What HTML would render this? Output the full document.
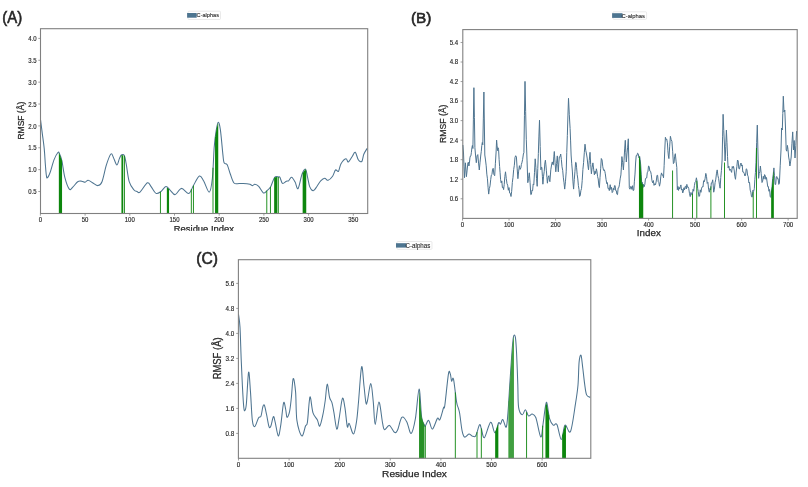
<!DOCTYPE html><html><head><meta charset="utf-8"><style>html,body{margin:0;padding:0;background:#fff;overflow:hidden;}svg{display:block;}</style></head><body>
<svg width="808" height="487" viewBox="0 0 808 487" font-family='"Liberation Sans", sans-serif' fill="#262626">
<defs><clipPath id="clipA"><rect x="0" y="0" width="400" height="230.7"/></clipPath><filter id="bl" x="0" y="0" width="100%" height="100%"><feGaussianBlur stdDeviation="0.55"/></filter></defs>
<g filter="url(#bl)">
<rect width="808" height="487" fill="#fff"/>
<g stroke="#808080" stroke-width="0.75">
<line x1="40.40" y1="213.50" x2="40.40" y2="215.70"/>
<line x1="85.10" y1="213.50" x2="85.10" y2="215.70"/>
<line x1="129.80" y1="213.50" x2="129.80" y2="215.70"/>
<line x1="174.50" y1="213.50" x2="174.50" y2="215.70"/>
<line x1="219.20" y1="213.50" x2="219.20" y2="215.70"/>
<line x1="263.90" y1="213.50" x2="263.90" y2="215.70"/>
<line x1="308.60" y1="213.50" x2="308.60" y2="215.70"/>
<line x1="353.30" y1="213.50" x2="353.30" y2="215.70"/>
<line x1="38.30" y1="191.53" x2="40.50" y2="191.53"/>
<line x1="38.30" y1="169.65" x2="40.50" y2="169.65"/>
<line x1="38.30" y1="147.78" x2="40.50" y2="147.78"/>
<line x1="38.30" y1="125.90" x2="40.50" y2="125.90"/>
<line x1="38.30" y1="104.03" x2="40.50" y2="104.03"/>
<line x1="38.30" y1="82.15" x2="40.50" y2="82.15"/>
<line x1="38.30" y1="60.28" x2="40.50" y2="60.28"/>
<line x1="38.30" y1="38.40" x2="40.50" y2="38.40"/>
</g><g stroke="#262626" stroke-width="0.15">
<text x="40.40" y="221.90" text-anchor="middle" font-size="6.4" textLength="3.34" lengthAdjust="spacingAndGlyphs">0</text>
<text x="85.10" y="221.90" text-anchor="middle" font-size="6.4" textLength="6.67" lengthAdjust="spacingAndGlyphs">50</text>
<text x="129.80" y="221.90" text-anchor="middle" font-size="6.4" textLength="10.01" lengthAdjust="spacingAndGlyphs">100</text>
<text x="174.50" y="221.90" text-anchor="middle" font-size="6.4" textLength="10.01" lengthAdjust="spacingAndGlyphs">150</text>
<text x="219.20" y="221.90" text-anchor="middle" font-size="6.4" textLength="10.01" lengthAdjust="spacingAndGlyphs">200</text>
<text x="263.90" y="221.90" text-anchor="middle" font-size="6.4" textLength="10.01" lengthAdjust="spacingAndGlyphs">250</text>
<text x="308.60" y="221.90" text-anchor="middle" font-size="6.4" textLength="10.01" lengthAdjust="spacingAndGlyphs">300</text>
<text x="353.30" y="221.90" text-anchor="middle" font-size="6.4" textLength="10.01" lengthAdjust="spacingAndGlyphs">350</text>
<text x="36.60" y="194.12" text-anchor="end" font-size="6.4" textLength="8.34" lengthAdjust="spacingAndGlyphs">0.5</text>
<text x="36.60" y="172.25" text-anchor="end" font-size="6.4" textLength="8.34" lengthAdjust="spacingAndGlyphs">1.0</text>
<text x="36.60" y="150.38" text-anchor="end" font-size="6.4" textLength="8.34" lengthAdjust="spacingAndGlyphs">1.5</text>
<text x="36.60" y="128.50" text-anchor="end" font-size="6.4" textLength="8.34" lengthAdjust="spacingAndGlyphs">2.0</text>
<text x="36.60" y="106.62" text-anchor="end" font-size="6.4" textLength="8.34" lengthAdjust="spacingAndGlyphs">2.5</text>
<text x="36.60" y="84.75" text-anchor="end" font-size="6.4" textLength="8.34" lengthAdjust="spacingAndGlyphs">3.0</text>
<text x="36.60" y="62.88" text-anchor="end" font-size="6.4" textLength="8.34" lengthAdjust="spacingAndGlyphs">3.5</text>
<text x="36.60" y="41.00" text-anchor="end" font-size="6.4" textLength="8.34" lengthAdjust="spacingAndGlyphs">4.0</text>
</g>
<path d="M40.50,119.50 C40.80,121.85 41.68,128.78 42.30,133.60 C42.92,138.42 43.68,143.17 44.20,148.40 C44.72,153.63 45.05,160.57 45.40,165.00 C45.75,169.43 45.98,172.85 46.30,175.00 C46.62,177.15 46.68,178.27 47.30,177.90 C47.92,177.53 48.88,175.80 50.00,172.80 C51.12,169.80 52.68,163.28 54.00,159.90 C55.32,156.52 57.00,153.57 57.90,152.50 C58.80,151.43 58.73,152.10 59.40,153.50 C60.07,154.90 60.98,156.87 61.90,160.90 C62.82,164.93 63.67,173.00 64.90,177.70 C66.13,182.40 67.98,187.53 69.30,189.10 C70.62,190.67 71.40,188.33 72.80,187.10 C74.20,185.87 76.22,182.68 77.70,181.70 C79.18,180.72 80.47,181.12 81.70,181.20 C82.93,181.28 84.03,182.37 85.10,182.20 C86.17,182.03 86.85,180.12 88.10,180.20 C89.35,180.28 90.95,181.80 92.60,182.70 C94.25,183.60 96.43,185.77 98.00,185.60 C99.57,185.43 100.60,185.15 102.00,181.70 C103.40,178.25 104.92,169.52 106.40,164.90 C107.88,160.28 109.73,155.25 110.90,154.00 C112.07,152.75 112.42,155.58 113.40,157.40 C114.38,159.22 115.82,164.65 116.80,164.90 C117.78,165.15 118.55,160.55 119.30,158.90 C120.05,157.25 120.47,155.58 121.30,155.00 C122.13,154.42 123.48,153.92 124.30,155.40 C125.12,156.88 125.38,159.52 126.20,163.90 C127.02,168.28 127.90,177.35 129.20,181.70 C130.50,186.05 132.70,188.37 134.00,190.00 C135.30,191.63 136.00,191.15 137.00,191.50 C138.00,191.85 138.27,193.55 140.00,192.10 C141.73,190.65 145.55,183.72 147.40,182.80 C149.25,181.88 149.67,184.83 151.10,186.60 C152.53,188.37 154.35,192.58 156.00,193.40 C157.65,194.22 159.35,192.63 161.00,191.50 C162.65,190.37 164.35,186.80 165.90,186.60 C167.45,186.40 168.75,188.97 170.30,190.30 C171.85,191.63 173.35,194.92 175.20,194.60 C177.05,194.28 179.13,188.60 181.40,188.40 C183.67,188.20 186.83,193.82 188.80,193.40 C190.77,192.98 191.43,188.80 193.20,185.90 C194.97,183.00 197.65,176.82 199.40,176.00 C201.15,175.18 202.05,178.32 203.70,181.00 C205.35,183.68 207.85,192.60 209.30,192.10 C210.75,191.60 211.58,185.48 212.40,178.00 C213.22,170.52 213.58,155.02 214.20,147.20 C214.82,139.38 215.43,135.27 216.10,131.10 C216.77,126.93 217.48,122.40 218.20,122.20 C218.92,122.00 219.62,124.50 220.40,129.90 C221.18,135.30 222.28,149.12 222.90,154.60 C223.52,160.08 223.38,161.12 224.10,162.80 C224.82,164.48 226.17,162.83 227.20,164.70 C228.23,166.57 229.17,170.95 230.30,174.00 C231.43,177.05 232.48,181.42 234.00,183.00 C235.52,184.58 237.25,183.38 239.40,183.50 C241.55,183.62 245.13,183.57 246.90,183.70 C248.67,183.83 249.05,183.98 250.00,184.30 C250.95,184.62 251.80,185.60 252.60,185.60 C253.40,185.60 253.78,184.17 254.80,184.30 C255.82,184.43 257.27,184.97 258.70,186.40 C260.13,187.83 261.97,192.25 263.40,192.90 C264.83,193.55 266.07,191.38 267.30,190.30 C268.53,189.22 269.57,188.57 270.80,186.40 C272.03,184.23 273.40,178.88 274.70,177.30 C276.00,175.72 277.73,176.90 278.60,176.90 C279.47,176.90 279.25,176.22 279.90,177.30 C280.55,178.38 281.42,182.75 282.50,183.40 C283.58,184.05 285.38,181.63 286.40,181.20 C287.42,180.77 287.73,181.45 288.60,180.80 C289.47,180.15 290.52,177.08 291.60,177.30 C292.68,177.52 294.02,180.22 295.10,182.10 C296.18,183.98 296.95,189.90 298.10,188.60 C299.25,187.30 300.77,177.55 302.00,174.30 C303.23,171.05 304.57,168.60 305.50,169.10 C306.43,169.60 306.88,174.33 307.60,177.30 C308.32,180.27 308.85,184.65 309.80,186.90 C310.75,189.15 312.07,190.95 313.30,190.80 C314.53,190.65 315.97,187.67 317.20,186.00 C318.43,184.33 319.45,182.08 320.70,180.80 C321.95,179.52 323.47,178.38 324.70,178.30 C325.93,178.22 326.78,180.63 328.10,180.30 C329.42,179.97 331.37,178.02 332.60,176.30 C333.83,174.58 334.52,170.83 335.50,170.00 C336.48,169.17 337.58,172.35 338.50,171.30 C339.42,170.25 339.77,165.80 341.00,163.70 C342.23,161.60 344.67,158.98 345.90,158.70 C347.13,158.42 347.32,162.42 348.40,162.00 C349.48,161.58 351.25,157.82 352.40,156.20 C353.55,154.58 354.32,151.72 355.30,152.30 C356.28,152.88 357.22,158.17 358.30,159.70 C359.38,161.23 360.88,162.40 361.80,161.50 C362.72,160.60 362.90,156.50 363.80,154.30 C364.70,152.10 366.63,149.30 367.20,148.30" fill="none" stroke="#4e7490" stroke-width="1.05" stroke-linejoin="round"/>
<path d="M58.85,213.50 L58.85,153.37 L59.20,153.37 L59.70,154.39 L60.20,155.87 L60.70,157.35 L61.20,158.83 L61.70,160.31 L62.05,160.31 L62.05,213.50Z" fill="#0d860d"/>
<path d="M121.45,213.50 L121.45,155.07 L121.80,155.07 L122.30,155.13 L122.80,155.20 L122.90,155.21 L123.25,155.21 L123.25,213.50Z" fill="#0d860d"/>
<rect x="123.95" y="155.85" width="0.90" height="57.65" fill="#0d860d"/>
<rect x="159.95" y="191.73" width="0.90" height="21.77" fill="#0d860d"/>
<path d="M166.85,213.50 L166.85,187.69 L167.20,187.69 L167.70,188.11 L168.20,188.53 L168.70,188.95 L169.05,188.95 L169.05,213.50Z" fill="#0d860d"/>
<rect x="190.85" y="189.14" width="0.90" height="24.36" fill="#0d860d"/>
<rect x="192.95" y="185.58" width="0.90" height="27.92" fill="#0d860d"/>
<rect x="212.55" y="167.73" width="0.90" height="45.77" fill="#0d860d"/>
<path d="M215.05,213.50 L215.05,137.03 L215.40,137.03 L215.90,132.79 L216.40,129.83 L216.90,127.71 L217.40,125.59 L217.90,123.47 L218.25,123.47 L218.25,213.50Z" fill="#0d860d"/>
<rect x="266.35" y="190.63" width="0.90" height="22.87" fill="#0d860d"/>
<rect x="269.95" y="186.85" width="0.90" height="26.65" fill="#0d860d"/>
<path d="M274.15,213.50 L274.15,177.77 L274.50,177.77 L275.00,177.27 L275.50,177.22 L276.00,177.17 L276.50,177.12 L277.00,177.06 L277.35,177.06 L277.35,213.50Z" fill="#0d860d"/>
<rect x="277.85" y="176.93" width="0.90" height="36.57" fill="#0d860d"/>
<path d="M302.65,213.50 L302.65,172.81 L303.00,172.81 L303.50,172.07 L304.00,171.33 L304.50,170.59 L305.00,169.84 L305.50,169.10 L305.90,170.66 L306.25,170.66 L306.25,213.50Z" fill="#0d860d"/>
<rect x="40.50" y="28.70" width="327.20" height="184.80" fill="none" stroke="#808080" stroke-width="1.1"/>
<text x="173.8" y="232.4" font-size="9.0" textLength="60.2" lengthAdjust="spacingAndGlyphs" stroke="#262626" stroke-width="0.25" clip-path="url(#clipA)">Residue Index</text>
<text transform="translate(24.00,120.70) rotate(-90)" text-anchor="middle" font-size="9.2" textLength="37.80" lengthAdjust="spacingAndGlyphs" stroke="#262626" stroke-width="0.25">RMSF (Å)</text>
<rect x="188.00" y="11.20" width="32.50" height="8.30" rx="1" fill="#fff" stroke="#dcdcdc" stroke-width="0.6"/>
<rect x="187.10" y="13.00" width="9.60" height="4.70" fill="#4e7490"/>
<text x="196.60" y="17.20" font-size="6.0" textLength="22.40" lengthAdjust="spacingAndGlyphs" stroke="#262626" stroke-width="0.1">C-alphas</text>
<text x="2.3" y="23.0" font-size="16.4" textLength="19.9" lengthAdjust="spacingAndGlyphs" stroke="#262626" stroke-width="0.6">(A)</text>
<g stroke="#808080" stroke-width="0.75">
<line x1="462.52" y1="218.40" x2="462.52" y2="220.60"/>
<line x1="509.04" y1="218.40" x2="509.04" y2="220.60"/>
<line x1="555.55" y1="218.40" x2="555.55" y2="220.60"/>
<line x1="602.07" y1="218.40" x2="602.07" y2="220.60"/>
<line x1="648.59" y1="218.40" x2="648.59" y2="220.60"/>
<line x1="695.11" y1="218.40" x2="695.11" y2="220.60"/>
<line x1="741.62" y1="218.40" x2="741.62" y2="220.60"/>
<line x1="788.14" y1="218.40" x2="788.14" y2="220.60"/>
<line x1="460.60" y1="198.76" x2="462.80" y2="198.76"/>
<line x1="460.60" y1="179.23" x2="462.80" y2="179.23"/>
<line x1="460.60" y1="159.69" x2="462.80" y2="159.69"/>
<line x1="460.60" y1="140.16" x2="462.80" y2="140.16"/>
<line x1="460.60" y1="120.62" x2="462.80" y2="120.62"/>
<line x1="460.60" y1="101.08" x2="462.80" y2="101.08"/>
<line x1="460.60" y1="81.55" x2="462.80" y2="81.55"/>
<line x1="460.60" y1="62.01" x2="462.80" y2="62.01"/>
<line x1="460.60" y1="42.48" x2="462.80" y2="42.48"/>
</g><g stroke="#262626" stroke-width="0.15">
<text x="462.52" y="226.90" text-anchor="middle" font-size="6.5" textLength="3.39" lengthAdjust="spacingAndGlyphs">0</text>
<text x="509.04" y="226.90" text-anchor="middle" font-size="6.5" textLength="10.17" lengthAdjust="spacingAndGlyphs">100</text>
<text x="555.55" y="226.90" text-anchor="middle" font-size="6.5" textLength="10.17" lengthAdjust="spacingAndGlyphs">200</text>
<text x="602.07" y="226.90" text-anchor="middle" font-size="6.5" textLength="10.17" lengthAdjust="spacingAndGlyphs">300</text>
<text x="648.59" y="226.90" text-anchor="middle" font-size="6.5" textLength="10.17" lengthAdjust="spacingAndGlyphs">400</text>
<text x="695.11" y="226.90" text-anchor="middle" font-size="6.5" textLength="10.17" lengthAdjust="spacingAndGlyphs">500</text>
<text x="741.62" y="226.90" text-anchor="middle" font-size="6.5" textLength="10.17" lengthAdjust="spacingAndGlyphs">600</text>
<text x="788.14" y="226.90" text-anchor="middle" font-size="6.5" textLength="10.17" lengthAdjust="spacingAndGlyphs">700</text>
<text x="458.20" y="201.16" text-anchor="end" font-size="6.5" textLength="8.48" lengthAdjust="spacingAndGlyphs">0.6</text>
<text x="458.20" y="181.63" text-anchor="end" font-size="6.5" textLength="8.48" lengthAdjust="spacingAndGlyphs">1.2</text>
<text x="458.20" y="162.09" text-anchor="end" font-size="6.5" textLength="8.48" lengthAdjust="spacingAndGlyphs">1.8</text>
<text x="458.20" y="142.56" text-anchor="end" font-size="6.5" textLength="8.48" lengthAdjust="spacingAndGlyphs">2.4</text>
<text x="458.20" y="123.02" text-anchor="end" font-size="6.5" textLength="8.48" lengthAdjust="spacingAndGlyphs">3.0</text>
<text x="458.20" y="103.48" text-anchor="end" font-size="6.5" textLength="8.48" lengthAdjust="spacingAndGlyphs">3.6</text>
<text x="458.20" y="83.95" text-anchor="end" font-size="6.5" textLength="8.48" lengthAdjust="spacingAndGlyphs">4.2</text>
<text x="458.20" y="64.41" text-anchor="end" font-size="6.5" textLength="8.48" lengthAdjust="spacingAndGlyphs">4.8</text>
<text x="458.20" y="44.88" text-anchor="end" font-size="6.5" textLength="8.48" lengthAdjust="spacingAndGlyphs">5.4</text>
</g>
<path d="M462.90,145.00 L463.50,153.00 L464.00,166.75 L464.50,177.70 L465.40,162.80 L465.90,169.05 L466.40,176.70 L467.15,170.12 L467.90,162.90 L468.40,162.22 L468.90,166.00 L469.40,163.24 L469.90,157.90 L470.40,156.00 L470.90,155.90 L471.40,152.29 L471.90,147.70 L472.40,145.46 L472.90,148.50 L473.40,119.16 L473.90,87.70 L474.40,117.40 L474.90,147.70 L475.60,155.96 L476.30,162.70 L477.05,155.85 L477.80,154.60 L478.55,163.08 L479.30,170.00 L480.05,162.20 L480.80,155.00 L481.30,151.29 L481.80,145.50 L482.30,142.49 L482.80,144.80 L483.35,118.91 L483.90,92.00 L484.80,155.00 L485.50,159.97 L486.20,165.80 L486.82,174.15 L487.45,178.81 L488.07,187.36 L488.70,194.10 L489.37,188.63 L490.03,185.89 L490.70,179.70 L491.32,175.12 L491.95,174.56 L492.57,169.23 L493.20,168.30 L493.95,174.73 L494.70,175.70 L495.40,163.27 L496.10,152.00 L496.60,140.10 L497.10,145.78 L497.60,150.70 L498.10,147.77 L498.60,149.70 L499.10,159.30 L499.60,166.50 L500.10,172.73 L500.60,179.70 L501.20,182.87 L501.80,180.92 L502.40,187.53 L503.00,187.06 L503.60,189.60 L504.23,184.54 L504.87,176.34 L505.50,171.80 L506.25,178.41 L507.00,183.70 L507.67,185.16 L508.33,190.27 L509.00,187.57 L509.67,193.08 L510.33,193.32 L511.00,196.50 L511.67,191.32 L512.33,182.44 L513.00,177.24 L513.67,169.64 L514.33,165.32 L515.00,157.40 L515.70,155.72 L516.40,157.00 L517.15,168.16 L517.90,178.70 L518.65,171.12 L519.40,165.70 L520.15,169.38 L520.90,167.80 L521.40,164.34 L521.90,162.80 L522.65,159.32 L523.40,154.00 L523.90,152.70 L524.45,115.75 L525.00,81.40 L525.65,111.70 L526.30,139.80 L527.05,160.93 L527.80,182.70 L528.55,178.46 L529.30,172.80 L530.05,182.30 L530.80,194.60 L531.40,194.27 L532.00,190.07 L532.60,190.66 L533.20,183.98 L533.80,184.70 L534.50,172.30 L535.20,158.80 L535.87,167.56 L536.53,178.38 L537.20,186.30 L537.78,168.60 L538.35,153.60 L538.92,136.09 L539.50,120.20 L540.20,146.38 L540.90,169.80 L541.40,166.98 L541.90,167.80 L542.40,176.28 L542.90,184.20 L543.57,176.18 L544.23,171.38 L544.90,162.90 L545.40,160.20 L545.90,164.88 L546.40,170.80 L546.90,177.36 L547.40,183.20 L548.15,177.09 L548.90,175.70 L549.40,179.94 L549.90,181.70 L550.80,169.80 L551.55,165.06 L552.30,161.90 L552.80,164.51 L553.30,164.90 L553.80,156.84 L554.30,151.50 L555.05,162.64 L555.80,171.80 L556.55,163.56 L557.30,155.90 L557.80,164.68 L558.30,171.80 L558.80,162.95 L559.30,156.90 L560.00,156.86 L560.70,154.00 L561.37,159.53 L562.03,166.81 L562.70,170.26 L563.37,177.85 L564.03,182.76 L564.70,189.10 L565.45,181.77 L566.20,171.80 L566.78,152.36 L567.35,135.35 L567.92,115.93 L568.50,98.30 L569.30,114.75 L570.10,128.40 L570.60,140.91 L571.10,155.00 L571.73,163.82 L572.35,171.02 L572.98,181.91 L573.60,189.10 L574.27,179.68 L574.93,171.73 L575.60,162.40 L576.10,162.56 L576.60,167.80 L577.20,174.68 L577.80,178.95 L578.40,185.69 L579.00,189.37 L579.60,196.50 L580.23,195.61 L580.87,190.67 L581.50,188.60 L582.20,180.67 L582.90,169.47 L583.60,162.55 L584.30,152.70 L585.00,144.20 L585.75,150.31 L586.50,154.00 L587.17,158.06 L587.83,164.91 L588.50,169.80 L589.25,160.46 L590.00,152.30 L590.70,164.42 L591.40,173.80 L592.15,167.40 L592.90,162.90 L593.65,169.13 L594.40,174.80 L595.07,171.06 L595.73,173.58 L596.40,168.80 L597.00,171.89 L597.60,176.65 L598.20,178.94 L598.80,185.11 L599.40,187.60 L600.03,177.47 L600.67,168.72 L601.30,158.50 L602.05,159.98 L602.80,166.80 L603.55,170.37 L604.30,169.80 L604.80,171.21 L605.30,173.80 L606.05,179.54 L606.80,183.70 L607.42,182.63 L608.05,188.65 L608.67,188.27 L609.30,190.60 L610.20,184.70 L610.87,189.47 L611.53,187.33 L612.20,192.60 L612.78,191.85 L613.35,188.24 L613.92,190.01 L614.50,185.70 L615.10,185.61 L615.70,190.59 L616.30,190.67 L616.90,194.20 L617.52,194.64 L618.15,187.84 L618.77,187.72 L619.40,184.80 L620.15,178.86 L620.90,174.90 L621.40,167.11 L621.90,156.60 L622.65,162.69 L623.40,169.90 L624.03,160.43 L624.67,148.93 L625.30,140.30 L625.80,152.33 L626.30,162.00 L626.97,153.91 L627.63,147.16 L628.30,138.80 L628.80,161.87 L629.30,187.70 L629.97,189.20 L630.63,186.47 L631.30,186.70 L631.92,189.39 L632.55,185.69 L633.17,190.59 L633.80,190.20 L634.40,181.20 L635.00,174.07 L635.60,163.01 L636.20,155.60 L636.87,155.77 L637.53,153.23 L638.20,153.70 L638.95,157.86 L639.70,156.60 L640.20,159.80 L640.70,165.00 L641.20,174.19 L641.70,182.80 L642.33,182.12 L642.95,187.54 L643.58,184.30 L644.20,186.70 L644.83,184.37 L645.47,178.56 L646.10,177.80 L646.70,178.11 L647.30,172.32 L647.90,171.92 L648.50,166.05 L649.10,166.40 L649.85,171.05 L650.60,171.40 L651.27,174.59 L651.93,180.48 L652.60,182.80 L653.33,180.50 L654.05,185.39 L654.77,183.72 L655.50,184.80 L656.25,181.08 L657.00,175.30 L657.62,175.35 L658.25,181.80 L658.88,182.63 L659.50,186.20 L660.17,183.03 L660.83,176.18 L661.50,172.90 L662.17,175.21 L662.83,174.84 L663.50,177.80 L664.13,165.69 L664.77,149.92 L665.40,137.30 L666.07,139.70 L666.73,139.07 L667.40,142.80 L667.90,150.70 L668.40,156.02 L668.90,158.60 L669.65,146.85 L670.40,136.30 L671.15,139.54 L671.90,141.30 L672.65,151.25 L673.40,163.60 L674.03,162.73 L674.67,156.24 L675.30,153.70 L676.05,161.18 L676.80,167.50 L677.30,189.70 L677.90,186.37 L678.50,190.42 L679.10,187.34 L679.70,189.03 L680.30,186.70 L680.90,184.92 L681.50,190.05 L682.10,189.04 L682.70,192.97 L683.30,191.70 L683.90,187.78 L684.50,189.81 L685.10,186.55 L685.70,186.20 L686.28,188.99 L686.85,184.37 L687.42,187.17 L688.00,186.70 L688.75,188.64 L689.50,193.70 L690.23,196.62 L690.95,192.44 L691.67,194.68 L692.40,194.20 L693.07,189.24 L693.73,191.18 L694.40,185.70 L695.07,182.08 L695.73,181.33 L696.40,177.80 L697.02,181.21 L697.65,188.32 L698.27,191.58 L698.90,196.60 L699.58,196.01 L700.26,189.85 L700.94,192.34 L701.62,188.11 L702.30,186.70 L702.97,187.03 L703.63,180.72 L704.30,181.80 L705.05,178.73 L705.80,173.40 L706.50,176.37 L707.20,183.38 L707.90,182.31 L708.60,189.16 L709.30,192.20 L709.98,188.48 L710.66,190.00 L711.34,182.91 L712.02,182.84 L712.70,179.80 L713.20,185.10 L713.70,192.20 L714.40,189.12 L715.10,182.64 L715.80,179.17 L716.50,173.19 L717.20,169.90 L717.93,175.72 L718.65,178.64 L719.38,184.17 L720.10,188.20 L720.77,177.45 L721.43,170.40 L722.10,160.00 L722.60,136.86 L723.10,114.30 L723.77,130.68 L724.43,144.04 L725.10,161.00 L725.75,146.27 L726.40,130.10 L726.97,142.39 L727.53,156.40 L728.10,167.90 L728.83,166.05 L729.55,170.33 L730.27,169.20 L731.00,170.90 L731.62,172.39 L732.25,166.49 L732.88,168.14 L733.50,166.40 L734.17,169.97 L734.83,176.40 L735.50,179.30 L736.17,172.07 L736.83,166.72 L737.50,160.00 L738.17,160.93 L738.83,168.62 L739.50,168.90 L740.25,164.89 L741.00,163.00 L741.60,166.06 L742.20,164.93 L742.80,171.98 L743.40,171.90 L744.15,173.27 L744.90,176.00 L745.57,175.11 L746.23,168.82 L746.90,169.40 L747.56,175.07 L748.21,176.64 L748.87,182.98 L749.53,182.25 L750.19,190.11 L750.84,192.07 L751.50,196.70 L752.20,197.10 L752.90,190.26 L753.60,191.47 L754.30,188.70 L754.87,179.32 L755.43,172.46 L756.00,162.30 L756.65,142.73 L757.30,125.10 L757.95,151.98 L758.60,178.30 L759.20,173.34 L759.80,171.49 L760.40,166.00 L761.20,173.57 L762.00,182.50 L762.65,181.18 L763.30,176.29 L763.95,179.13 L764.60,174.60 L765.23,175.58 L765.85,179.31 L766.48,177.49 L767.10,182.00 L767.72,186.66 L768.33,186.54 L768.95,191.24 L769.57,189.47 L770.18,196.36 L770.80,197.40 L771.42,191.20 L772.04,186.66 L772.66,178.38 L773.28,174.30 L773.90,167.90 L774.50,175.76 L775.10,184.50 L775.70,184.40 L776.30,176.92 L776.90,176.50 L777.52,178.85 L778.15,178.52 L778.77,184.39 L779.40,183.30 L780.20,165.80 L781.00,150.00 L781.60,128.00 L782.30,130.00 L782.80,113.38 L783.30,96.20 L784.00,112.00 L784.80,110.00 L785.50,128.00 L786.20,150.00 L786.80,151.20 L787.40,145.40 L788.02,149.57 L788.65,157.06 L789.27,160.28 L789.90,166.00 L790.55,161.89 L791.20,157.00 L791.95,143.22 L792.70,131.90 L793.50,150.00 L794.20,140.50 L795.00,158.00 L795.80,145.69 L796.60,131.00" fill="none" stroke="#4e7490" stroke-width="1.0" stroke-linejoin="round"/>
<path d="M638.95,218.40 L638.95,155.83 L639.30,155.83 L639.80,157.44 L640.30,161.64 L640.80,166.78 L641.30,175.68 L641.80,182.96 L642.30,183.74 L642.80,184.52 L642.90,184.67 L643.25,184.67 L643.25,218.40Z" fill="#0d860d"/>
<rect x="672.15" y="170.50" width="0.90" height="47.90" fill="#0d860d"/>
<rect x="692.05" y="193.77" width="0.90" height="24.63" fill="#0d860d"/>
<rect x="696.35" y="180.81" width="0.90" height="37.59" fill="#0d860d"/>
<rect x="710.45" y="186.36" width="0.90" height="32.04" fill="#0d860d"/>
<rect x="724.05" y="162.50" width="0.90" height="55.90" fill="#0d860d"/>
<rect x="752.75" y="191.84" width="0.90" height="26.56" fill="#0d860d"/>
<rect x="756.05" y="147.99" width="0.90" height="70.41" fill="#0d860d"/>
<path d="M771.15,218.40 L771.15,190.74 L771.50,190.74 L772.00,185.98 L772.50,181.22 L773.00,176.46 L773.50,171.71 L773.85,171.71 L773.85,218.40Z" fill="#0d860d"/>
<rect x="462.80" y="29.60" width="334.40" height="188.80" fill="none" stroke="#808080" stroke-width="1.1"/>
<text x="636.8" y="236.4" font-size="9.4" textLength="24.0" lengthAdjust="spacingAndGlyphs" stroke="#262626" stroke-width="0.25">Index</text>
<text transform="translate(445.90,123.80) rotate(-90)" text-anchor="middle" font-size="9.6" textLength="38.40" lengthAdjust="spacingAndGlyphs" stroke="#262626" stroke-width="0.25">RMSF (Å)</text>
<rect x="612.90" y="11.80" width="33.70" height="7.50" rx="1" fill="#fff" stroke="#dcdcdc" stroke-width="0.6"/>
<rect x="612.10" y="13.20" width="10.40" height="4.70" fill="#4e7490"/>
<text x="621.60" y="17.70" font-size="6.1" textLength="23.40" lengthAdjust="spacingAndGlyphs" stroke="#262626" stroke-width="0.1">C-alphas</text>
<text x="410.9" y="22.8" font-size="15.5" textLength="20.5" lengthAdjust="spacingAndGlyphs" stroke="#262626" stroke-width="0.6">(B)</text>
<g stroke="#808080" stroke-width="0.75">
<line x1="238.50" y1="458.30" x2="238.50" y2="460.50"/>
<line x1="289.10" y1="458.30" x2="289.10" y2="460.50"/>
<line x1="339.70" y1="458.30" x2="339.70" y2="460.50"/>
<line x1="390.30" y1="458.30" x2="390.30" y2="460.50"/>
<line x1="440.90" y1="458.30" x2="440.90" y2="460.50"/>
<line x1="491.50" y1="458.30" x2="491.50" y2="460.50"/>
<line x1="542.10" y1="458.30" x2="542.10" y2="460.50"/>
<line x1="236.20" y1="433.40" x2="238.40" y2="433.40"/>
<line x1="236.20" y1="408.40" x2="238.40" y2="408.40"/>
<line x1="236.20" y1="383.40" x2="238.40" y2="383.40"/>
<line x1="236.20" y1="358.40" x2="238.40" y2="358.40"/>
<line x1="236.20" y1="333.40" x2="238.40" y2="333.40"/>
<line x1="236.20" y1="308.40" x2="238.40" y2="308.40"/>
<line x1="236.20" y1="283.40" x2="238.40" y2="283.40"/>
</g><g stroke="#262626" stroke-width="0.15">
<text x="238.50" y="467.30" text-anchor="middle" font-size="6.7" textLength="3.50" lengthAdjust="spacingAndGlyphs">0</text>
<text x="289.10" y="467.30" text-anchor="middle" font-size="6.7" textLength="10.51" lengthAdjust="spacingAndGlyphs">100</text>
<text x="339.70" y="467.30" text-anchor="middle" font-size="6.7" textLength="10.51" lengthAdjust="spacingAndGlyphs">200</text>
<text x="390.30" y="467.30" text-anchor="middle" font-size="6.7" textLength="10.51" lengthAdjust="spacingAndGlyphs">300</text>
<text x="440.90" y="467.30" text-anchor="middle" font-size="6.7" textLength="10.51" lengthAdjust="spacingAndGlyphs">400</text>
<text x="491.50" y="467.30" text-anchor="middle" font-size="6.7" textLength="10.51" lengthAdjust="spacingAndGlyphs">500</text>
<text x="542.10" y="467.30" text-anchor="middle" font-size="6.7" textLength="10.51" lengthAdjust="spacingAndGlyphs">600</text>
<text x="234.20" y="435.70" text-anchor="end" font-size="6.7" textLength="8.76" lengthAdjust="spacingAndGlyphs">0.8</text>
<text x="234.20" y="410.70" text-anchor="end" font-size="6.7" textLength="8.76" lengthAdjust="spacingAndGlyphs">1.6</text>
<text x="234.20" y="385.70" text-anchor="end" font-size="6.7" textLength="8.76" lengthAdjust="spacingAndGlyphs">2.4</text>
<text x="234.20" y="360.70" text-anchor="end" font-size="6.7" textLength="8.76" lengthAdjust="spacingAndGlyphs">3.2</text>
<text x="234.20" y="335.70" text-anchor="end" font-size="6.7" textLength="8.76" lengthAdjust="spacingAndGlyphs">4.0</text>
<text x="234.20" y="310.70" text-anchor="end" font-size="6.7" textLength="8.76" lengthAdjust="spacingAndGlyphs">4.8</text>
<text x="234.20" y="285.70" text-anchor="end" font-size="6.7" textLength="8.76" lengthAdjust="spacingAndGlyphs">5.6</text>
</g>
<path d="M238.50,314.20 C238.75,316.37 239.55,319.67 240.00,327.20 C240.45,334.73 240.80,349.60 241.20,359.40 C241.60,369.20 241.97,377.98 242.40,386.00 C242.83,394.02 243.37,403.45 243.80,407.50 C244.23,411.55 244.57,410.97 245.00,410.30 C245.43,409.63 245.80,409.83 246.40,403.50 C247.00,397.17 247.92,374.20 248.60,372.30 C249.28,370.40 249.88,384.15 250.50,392.10 C251.12,400.05 251.58,414.25 252.30,420.00 C253.02,425.75 253.77,426.95 254.80,426.60 C255.83,426.25 257.47,419.65 258.50,417.90 C259.53,416.15 260.28,417.92 261.00,416.10 C261.72,414.28 262.23,408.80 262.80,407.00 C263.37,405.20 263.77,404.02 264.40,405.30 C265.03,406.58 265.83,411.15 266.60,414.70 C267.37,418.25 268.28,424.72 269.00,426.60 C269.72,428.48 270.17,427.65 270.90,426.00 C271.63,424.35 272.68,417.32 273.40,416.70 C274.12,416.08 274.38,419.10 275.20,422.30 C276.02,425.50 277.37,435.48 278.30,435.90 C279.23,436.32 279.92,430.32 280.80,424.80 C281.68,419.28 282.78,405.35 283.60,402.80 C284.42,400.25 285.13,407.08 285.70,409.50 C286.27,411.92 286.37,416.92 287.00,417.30 C287.63,417.68 288.78,414.97 289.50,411.80 C290.22,408.63 290.68,403.85 291.30,398.30 C291.92,392.75 292.48,379.53 293.20,378.50 C293.92,377.47 294.98,385.12 295.60,392.10 C296.22,399.08 295.87,413.10 296.90,420.40 C297.93,427.70 300.37,434.97 301.80,435.90 C303.23,436.83 304.57,428.27 305.50,426.00 C306.43,423.73 306.77,426.43 307.40,422.30 C308.03,418.17 308.78,405.30 309.30,401.20 C309.82,397.10 309.88,395.77 310.50,397.70 C311.12,399.63 311.87,409.12 313.00,412.80 C314.13,416.48 316.17,417.60 317.30,419.80 C318.43,422.00 318.87,426.85 319.80,426.00 C320.73,425.15 321.98,419.03 322.90,414.70 C323.82,410.37 324.58,405.10 325.30,400.00 C326.02,394.90 326.48,384.52 327.20,384.10 C327.92,383.68 328.80,394.38 329.60,397.50 C330.40,400.62 331.28,400.32 332.00,402.80 C332.72,405.28 333.10,408.02 333.90,412.40 C334.70,416.78 335.90,428.28 336.80,429.10 C337.70,429.92 338.37,422.42 339.30,417.30 C340.23,412.18 341.47,400.05 342.40,398.40 C343.33,396.75 344.08,402.70 344.90,407.40 C345.72,412.10 346.58,423.92 347.30,426.60 C348.02,429.28 348.17,422.27 349.20,423.50 C350.23,424.73 352.27,434.42 353.50,434.00 C354.73,433.58 355.77,426.33 356.60,421.00 C357.43,415.67 357.67,411.02 358.50,402.00 C359.33,392.98 360.68,369.57 361.60,366.90 C362.52,364.23 363.28,380.03 364.00,386.00 C364.72,391.97 365.33,400.20 365.90,402.70 C366.47,405.20 366.58,404.18 367.40,401.00 C368.22,397.82 369.82,383.42 370.80,383.60 C371.78,383.78 372.57,395.28 373.30,402.10 C374.03,408.92 374.27,424.52 375.20,424.50 C376.13,424.48 377.67,402.22 378.90,402.00 C380.13,401.78 381.67,418.58 382.60,423.20 C383.53,427.82 383.37,429.33 384.50,429.70 C385.63,430.07 387.75,424.98 389.40,425.40 C391.05,425.82 393.05,431.38 394.40,432.20 C395.75,433.02 396.27,432.77 397.50,430.30 C398.73,427.83 400.27,418.83 401.80,417.40 C403.33,415.97 405.15,419.03 406.70,421.70 C408.25,424.37 409.65,433.92 411.10,433.40 C412.55,432.88 414.07,425.98 415.40,418.60 C416.73,411.22 418.07,389.37 419.10,389.10 C420.13,388.83 420.77,411.10 421.60,417.00 C422.43,422.90 423.48,423.00 424.10,424.50 C424.72,426.00 424.53,426.68 425.30,426.00 C426.07,425.32 427.52,419.88 428.70,420.40 C429.88,420.92 430.95,429.43 432.40,429.10 C433.85,428.77 436.15,419.98 437.40,418.40 C438.65,416.82 438.87,421.42 439.90,419.60 C440.93,417.78 442.78,409.85 443.60,407.50 C444.42,405.15 443.98,411.13 444.80,405.50 C445.62,399.87 447.57,378.90 448.50,373.70 C449.43,368.50 449.88,373.07 450.40,374.30 C450.92,375.53 451.08,380.28 451.60,381.10 C452.12,381.92 452.67,375.70 453.50,379.20 C454.33,382.70 455.78,397.25 456.60,402.10 C457.42,406.95 457.88,406.38 458.40,408.30 C458.92,410.22 459.08,409.83 459.70,413.60 C460.32,417.37 461.28,426.98 462.10,430.90 C462.92,434.82 463.47,436.58 464.60,437.10 C465.73,437.62 467.67,434.20 468.90,434.00 C470.13,433.80 470.87,435.58 472.00,435.90 C473.13,436.22 474.45,437.75 475.70,435.90 C476.95,434.05 478.57,426.03 479.50,424.80 C480.43,423.57 480.48,426.35 481.30,428.50 C482.12,430.65 482.85,438.73 484.40,437.70 C485.95,436.67 488.85,423.12 490.60,422.30 C492.35,421.48 493.57,432.70 494.90,432.80 C496.23,432.90 497.67,424.35 498.60,422.90 C499.53,421.45 499.80,424.67 500.50,424.10 C501.20,423.53 501.85,419.00 502.80,419.50 C503.75,420.00 505.35,428.08 506.20,427.10 C507.05,426.12 507.30,420.72 507.90,413.60 C508.50,406.48 509.17,394.02 509.80,384.40 C510.43,374.78 511.18,363.12 511.70,355.90 C512.22,348.68 512.53,344.50 512.90,341.10 C513.27,337.70 513.48,336.12 513.90,335.50 C514.32,334.88 514.95,334.40 515.40,337.40 C515.85,340.40 516.20,345.67 516.60,353.50 C517.00,361.33 517.47,375.43 517.80,384.40 C518.13,393.37 517.85,402.25 518.60,407.30 C519.35,412.35 521.17,414.28 522.30,414.70 C523.43,415.12 524.37,409.60 525.40,409.80 C526.43,410.00 527.37,415.18 528.50,415.90 C529.63,416.62 530.97,413.78 532.20,414.10 C533.43,414.42 534.47,413.98 535.90,417.80 C537.33,421.62 539.57,436.28 540.80,437.00 C542.03,437.72 542.37,427.88 543.30,422.10 C544.23,416.32 545.37,402.92 546.40,402.30 C547.43,401.68 548.37,414.58 549.50,418.40 C550.63,422.22 551.97,424.17 553.20,425.20 C554.43,426.23 555.55,422.22 556.90,424.60 C558.25,426.98 559.95,439.40 561.30,439.50 C562.65,439.60 563.47,426.55 565.00,425.20 C566.53,423.85 568.75,435.00 570.50,431.40 C572.25,427.80 574.25,411.33 575.50,403.60 C576.75,395.87 577.40,391.92 578.00,385.00 C578.60,378.08 578.60,367.05 579.10,362.10 C579.60,357.15 580.38,354.27 581.00,355.30 C581.62,356.33 582.18,363.45 582.80,368.30 C583.42,373.15 584.07,379.97 584.70,384.40 C585.33,388.83 585.67,392.73 586.60,394.90 C587.53,397.07 589.68,396.98 590.30,397.40" fill="none" stroke="#4e7490" stroke-width="1.05" stroke-linejoin="round"/>
<path d="M419.05,458.30 L419.05,392.45 L419.40,392.45 L419.90,398.03 L420.40,403.61 L420.90,409.19 L421.40,414.77 L421.90,417.90 L422.40,419.40 L422.90,420.90 L423.40,422.40 L423.90,423.90 L424.10,424.50 L424.45,424.50 L424.45,458.30Z" fill="#259025"/>
<rect x="424.85" y="426.00" width="0.90" height="32.30" fill="#0d860d"/>
<rect x="454.85" y="392.50" width="0.90" height="65.80" fill="#0d860d"/>
<rect x="476.55" y="432.10" width="0.90" height="26.20" fill="#0d860d"/>
<rect x="480.85" y="428.50" width="0.90" height="29.80" fill="#0d860d"/>
<path d="M495.15,458.30 L495.15,431.19 L495.50,431.19 L496.00,429.86 L496.50,428.52 L497.00,427.18 L497.50,425.84 L498.00,424.51 L498.35,424.51 L498.35,458.30Z" fill="#0d860d"/>
<path d="M508.35,458.30 L508.35,401.31 L508.70,401.31 L509.20,393.62 L509.70,385.94 L510.20,378.40 L510.70,370.90 L511.20,363.40 L511.70,355.90 L512.20,349.73 L512.70,343.57 L513.20,339.42 L513.60,337.18 L513.95,337.18 L513.95,458.30Z" fill="#3f9f3f"/>
<rect x="526.15" y="412.16" width="0.90" height="46.14" fill="#0d860d"/>
<rect x="542.25" y="425.68" width="0.90" height="32.62" fill="#0d860d"/>
<path d="M545.45,458.30 L545.45,406.13 L545.80,406.13 L546.30,402.94 L546.80,404.38 L547.30,406.97 L547.80,409.57 L548.30,412.17 L548.80,414.76 L549.15,414.76 L549.15,458.30Z" fill="#0d860d"/>
<path d="M562.15,458.30 L562.15,434.86 L562.50,434.86 L563.00,432.93 L563.50,431.00 L564.00,429.06 L564.50,427.13 L565.00,425.20 L565.50,425.76 L565.60,425.88 L565.95,425.88 L565.95,458.30Z" fill="#0d860d"/>
<rect x="238.40" y="259.70" width="352.40" height="198.60" fill="none" stroke="#808080" stroke-width="1.1"/>
<text x="382.1" y="477.1" font-size="9.2" textLength="64.8" lengthAdjust="spacingAndGlyphs" stroke="#262626" stroke-width="0.25">Residue Index</text>
<text transform="translate(221.40,358.40) rotate(-90)" text-anchor="middle" font-size="10.2" textLength="41.90" lengthAdjust="spacingAndGlyphs" stroke="#262626" stroke-width="0.25">RMSF (Å)</text>
<rect x="396.90" y="241.50" width="35.10" height="7.80" rx="1" fill="#fff" stroke="#dcdcdc" stroke-width="0.6"/>
<rect x="396.00" y="243.20" width="10.40" height="4.40" fill="#4e7490"/>
<text x="405.60" y="247.70" font-size="6.3" textLength="24.70" lengthAdjust="spacingAndGlyphs" stroke="#262626" stroke-width="0.1">C-alphas</text>
<text x="196.3" y="263.7" font-size="15.8" textLength="21.7" lengthAdjust="spacingAndGlyphs" stroke="#262626" stroke-width="0.6">(C)</text>
</g></svg></body></html>
